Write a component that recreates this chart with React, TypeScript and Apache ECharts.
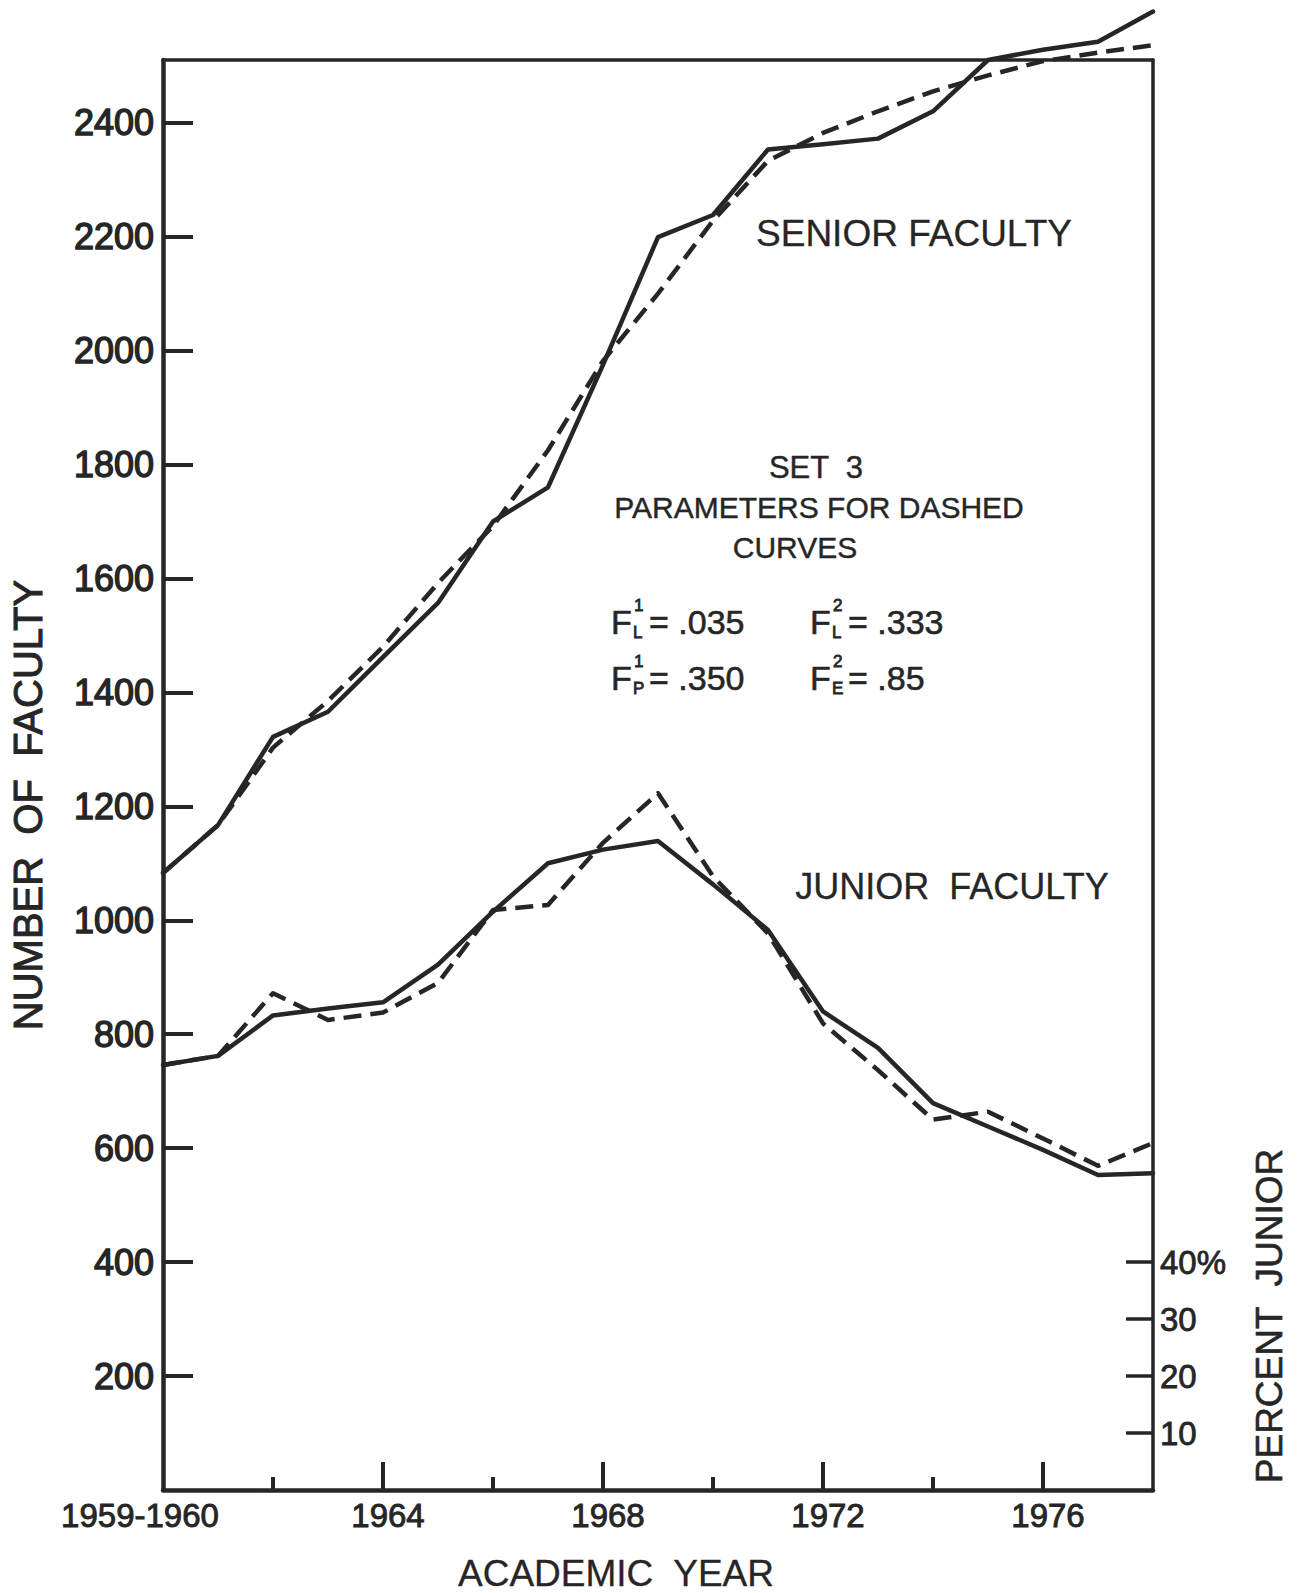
import React, { useEffect, useRef } from "react";
import * as echarts from "echarts";

// Academic years (1960 stands for 1959-1960)
const years = [
  1960, 1961, 1962, 1963, 1964, 1965, 1966, 1967, 1968, 1969,
  1970, 1971, 1972, 1973, 1974, 1975, 1976, 1977, 1978,
];

// Senior faculty: observed (solid) and Set 3 model (dashed)
const seniorActual = [
  1083, 1167, 1322, 1366, 1462, 1557, 1700, 1760, 1975, 2199,
  2238, 2353, 2362, 2372, 2420, 2510, 2528, 2542, 2595,
];
const seniorModel = [
  1083, 1167, 1303, 1385, 1480, 1592, 1692, 1825, 1982, 2100,
  2228, 2333, 2382, 2420, 2455, 2483, 2508, 2523, 2536,
];

// Junior faculty: observed (solid) and Set 3 model (dashed)
const juniorActual = [
  746, 762, 833, 845, 856, 922, 1015, 1100, 1124, 1139,
  1063, 983, 840, 776, 679, 638, 597, 553, 556,
];
const juniorModel = [
  746, 762, 872, 825, 838, 890, 1018, 1027, 1136, 1223,
  1077, 977, 819, 737, 650, 664, 617, 569, 609,
];

// Axis ticks and labels
const countTicks = [200, 400, 600, 800, 1000, 1200, 1400, 1600, 1800, 2000, 2200, 2400];
const yearLabels = [1960, 1964, 1968, 1972, 1976];
const yearMajorTicks = [1964, 1968, 1972, 1976];
const yearMinorTicks = [1962, 1966, 1970, 1974];
const percentTicks = [10, 20, 30, 40];

// Set 3 parameter annotations
const paramSups = ["1", "2", "1", "2"];
const paramSubs = ["L", "L", "P", "E"];
const paramValues = [".035", ".333", ".350", ".85"];

const INK = "#262626";
const FONT = '"Liberation Sans", Arial, sans-serif';

const pairs = (vals: number[]) => years.map((y, i) => [y, vals[i]]);

function buildOption(): any {
  const lineSeries = (name: string, vals: number[], dashed: boolean) => ({
    name,
    type: "line",
    data: pairs(vals),
    xAxisIndex: 0,
    yAxisIndex: 0,
    symbol: "none",
    clip: false,
    silent: true,
    lineStyle: {
      color: INK,
      width: 4.5,
      type: dashed ? [18, 9] : "solid",
      cap: dashed ? "butt" : "round",
      join: "round",
    },
  });

  // heavier lettering: regular glyphs with a thin outline in the ink colour
  const text = (t: string, x: number, y: number, size: number, weight: number, extra: any = {}) => ({
    type: "text",
    x,
    y,
    silent: true,
    ...extra,
    style: {
      text: t,
      fill: INK,
      fontSize: size,
      fontFamily: FONT,
      align: "center",
      verticalAlign: "middle",
      stroke: weight > 0 ? INK : undefined,
      lineWidth: weight,
      ...(extra.style || {}),
    },
  });

  // parameter block: two rows x two columns
  const cols = [611, 810];
  const rows = [622, 678];
  const paramGraphics: any[] = [];
  paramValues.forEach((v, i) => {
    const x = cols[i % 2];
    const y = rows[Math.floor(i / 2)];
    paramGraphics.push(text("F", x, y, 34, 0.6, { style: { align: "left" } }));
    paramGraphics.push(text(paramSups[i], x + 23, y - 17, 17, 0.8, { style: { align: "left" } }));
    paramGraphics.push(text(paramSubs[i], x + 22, y + 10, 17, 0.8, { style: { align: "left" } }));
    paramGraphics.push(text("= " + v, x + 38, y, 34, 0.6, { style: { align: "left" } }));
  });

  const labelBase = {
    color: INK,
    fontFamily: FONT,
    textBorderColor: INK,
  };

  return {
    animation: false,
    backgroundColor: "#ffffff",
    grid: { left: 163, right: 145, top: 60, bottom: 103 },
    xAxis: [
      {
        type: "value",
        position: "bottom",
        min: 1960,
        max: 1978,
        splitLine: { show: false },
        axisLine: { show: true, lineStyle: { color: INK, width: 4.5 } },
        axisTick: {
          show: true,
          inside: true,
          length: 28,
          customValues: yearMajorTicks,
          lineStyle: { color: INK, width: 4 },
        },
        axisLabel: {
          show: true,
          customValues: yearLabels,
          margin: 9,
          ...labelBase,
          fontSize: 33,
          textBorderWidth: 0.9,
          formatter: (v: number) => (v === 1960 ? "{first|1959-1960}" : "{yr|" + v + "}"),
          rich: {
            first: { ...labelBase, fontSize: 33, textBorderWidth: 0.9, padding: [0, 46, 0, 0] },
            yr: { ...labelBase, fontSize: 33, textBorderWidth: 0.9, padding: [0, 0, 0, 10] },
          },
        },
      },
      {
        type: "value",
        position: "bottom",
        min: 1960,
        max: 1978,
        splitLine: { show: false },
        axisLine: { show: false },
        axisTick: {
          show: true,
          inside: true,
          length: 13,
          customValues: yearMinorTicks,
          lineStyle: { color: INK, width: 4 },
        },
        axisLabel: { show: false },
      },
      {
        type: "value",
        position: "top",
        min: 1960,
        max: 1978,
        splitLine: { show: false },
        axisLine: { show: true, lineStyle: { color: INK, width: 3.5 } },
        axisTick: { show: false },
        axisLabel: { show: false },
      },
    ],
    yAxis: [
      {
        type: "value",
        position: "left",
        min: 0,
        max: 2510,
        splitLine: { show: false },
        axisLine: { show: true, lineStyle: { color: INK, width: 4.5 } },
        axisTick: {
          show: true,
          inside: true,
          length: 30,
          customValues: countTicks,
          lineStyle: { color: INK, width: 4 },
        },
        axisLabel: {
          show: true,
          customValues: countTicks,
          margin: 9,
          ...labelBase,
          fontSize: 36,
          textBorderWidth: 1.4,
          formatter: (v: number) => String(v),
        },
      },
      {
        type: "value",
        position: "right",
        min: 0,
        max: 251,
        splitLine: { show: false },
        axisLine: { show: true, lineStyle: { color: INK, width: 3.5 } },
        axisTick: {
          show: true,
          inside: true,
          length: 27,
          customValues: percentTicks,
          lineStyle: { color: INK, width: 3.5 },
        },
        axisLabel: {
          show: true,
          customValues: percentTicks,
          margin: 7,
          ...labelBase,
          fontSize: 33,
          textBorderWidth: 0.8,
          formatter: (v: number) => (v === 40 ? "40%" : String(v)),
        },
      },
    ],
    series: [
      lineSeries("Senior faculty", seniorActual, false),
      lineSeries("Senior faculty (Set 3)", seniorModel, true),
      lineSeries("Junior faculty", juniorActual, false),
      lineSeries("Junior faculty (Set 3)", juniorModel, true),
    ],
    graphic: [
      text("SENIOR FACULTY", 914, 233, 37, 0.3),
      text("JUNIOR  FACULTY", 952, 886, 36, 0.3),
      text("SET  3", 816, 467, 31, 0.4),
      text("PARAMETERS FOR DASHED", 819, 507, 30, 0.4),
      text("CURVES", 795, 547, 30, 0.4),
      ...paramGraphics,
      text("ACADEMIC  YEAR", 616, 1573, 37, 0.3),
      text("NUMBER  OF  FACULTY", 28, 805, 40, 1, { rotation: Math.PI / 2 }),
      text("PERCENT  JUNIOR", 1269, 1316, 37, 0.6, { rotation: Math.PI / 2 }),
    ],
  };
}

export default function App() {
  const ref = useRef<HTMLDivElement>(null);

  useEffect(() => {
    if (!ref.current) return;
    const chart = echarts.init(ref.current, undefined, { renderer: "svg" });
    chart.setOption(buildOption());
    return () => chart.dispose();
  }, []);

  return (
    <div
      ref={ref}
      style={{ position: "absolute", left: 0, top: 0, width: 1298, height: 1593, background: "#fff" }}
    />
  );
}
